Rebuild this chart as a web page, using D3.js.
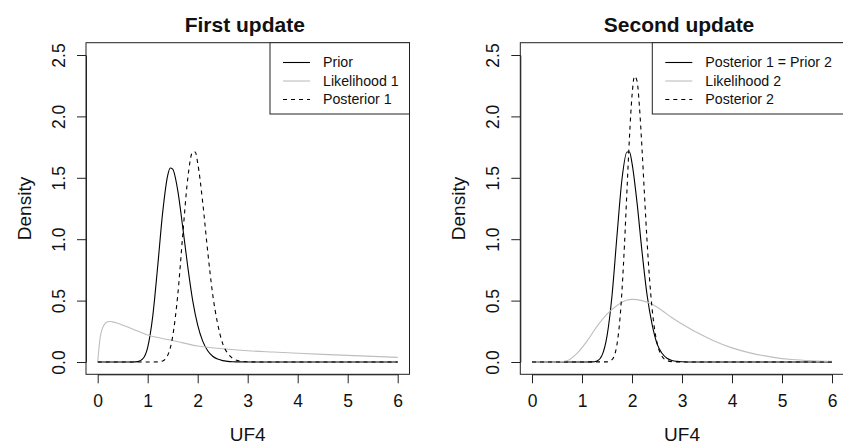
<!DOCTYPE html>
<html>
<head>
<meta charset="utf-8">
<script src="https://cdn.jsdelivr.net/npm/d3@7"></script>
<style>
  body { margin: 0; background: #fff; }
  svg text { font-family: "Liberation Sans", Arial, Helvetica, sans-serif; fill: #111; }
</style>
</head>
<body>
<div id="chart"></div>
<script>
// x ticks / y ticks
var xTicks = [0, 1, 2, 3, 4, 5, 6];
var yTicks = [0, 0.5, 1, 1.5, 2, 2.5];

// prior (first update)
var priorX = [0, 0.6, 0.7, 0.8, 0.9, 1.0, 1.1, 1.2, 1.3, 1.4, 1.45, 1.5, 1.6, 1.7, 1.8, 1.9, 2.0, 2.1, 2.2, 2.3, 2.4, 2.5, 2.6, 2.7, 2.8, 3.0, 6];
var priorY = [0, 0, 0.0003, 0.003, 0.025, 0.12, 0.37, 0.78, 1.22, 1.52, 1.58, 1.57, 1.40, 1.10, 0.78, 0.50, 0.30, 0.17, 0.092, 0.047, 0.024, 0.011, 0.005, 0.002, 0.001, 0, 0];

// likelihood 1
var lik1X = [0, 0.02, 0.05, 0.1, 0.15, 0.2, 0.25, 0.3, 0.4, 0.5, 0.6, 0.8, 1.0, 1.25, 1.5, 2.0, 2.5, 3.0, 3.5, 4.0, 4.5, 5.0, 5.5, 6.0];
var lik1Y = [0, 0.09, 0.2, 0.28, 0.315, 0.328, 0.33, 0.327, 0.315, 0.3, 0.285, 0.252, 0.22, 0.195, 0.175, 0.13, 0.108, 0.092, 0.081, 0.071, 0.062, 0.054, 0.046, 0.038];

// posterior 1 (= prior 2)
var post1X = [0, 1.1, 1.2, 1.3, 1.4, 1.5, 1.6, 1.7, 1.8, 1.9, 1.95, 2.0, 2.1, 2.2, 2.3, 2.4, 2.5, 2.6, 2.7, 2.8, 2.9, 3.0, 3.2, 6];
var post1Y = [0, 0, 0.001, 0.009, 0.054, 0.21, 0.54, 1.03, 1.49, 1.71, 1.71, 1.62, 1.30, 0.90, 0.55, 0.31, 0.15, 0.071, 0.030, 0.012, 0.005, 0.002, 0, 0];

// likelihood 2
var lik2X = [0, 0.5, 0.7, 0.9, 1.1, 1.3, 1.5, 1.7, 1.9, 2.0, 2.2, 2.4, 2.6, 2.8, 3.0, 3.3, 3.6, 4.0, 4.4, 4.8, 5.2, 5.6, 6.0];
var lik2Y = [0, 0, 0.01, 0.07, 0.17, 0.29, 0.39, 0.46, 0.505, 0.51, 0.50, 0.47, 0.42, 0.36, 0.31, 0.24, 0.18, 0.115, 0.07, 0.04, 0.02, 0.01, 0.005];

// posterior 2
var post2X = [0, 1.5, 1.6, 1.7, 1.75, 1.8, 1.85, 1.9, 1.95, 2.0, 2.05, 2.1, 2.15, 2.2, 2.25, 2.3, 2.35, 2.4, 2.45, 2.5, 2.6, 2.7, 2.8, 3.0, 6];
var post2Y = [0, 0.001, 0.019, 0.144, 0.311, 0.583, 0.96, 1.404, 1.835, 2.167, 2.327, 2.289, 2.072, 1.738, 1.359, 0.993, 0.682, 0.442, 0.272, 0.158, 0.047, 0.012, 0.003, 0, 0];

var titles = ["First update", "Second update"];
var legend1 = ["Prior", "Likelihood 1", "Posterior 1"];
var legend2 = ["Posterior 1 = Prior 2", "Likelihood 2", "Posterior 2"];

var svg_width = 843;
var svg_height = 444;

var svg = d3.select('#chart')
  .append('svg')
  .attr('width', svg_width)
  .attr('height', svg_height);

var styles = [
  {color: '#000', dash: null},
  {color: '#bebebe', dash: null},
  {color: '#000', dash: '4,4'}
];

function zip(xs, ys) {
  return xs.map(function(d, i) { return [d, ys[i]]; });
}

function drawPanel(offset, title, series, labels, legendLeft) {
  var g = svg.append('g').attr('transform', 'translate(' + offset + ',0)');

  var box = {left: 86, right: 409.5, top: 42.7, bottom: 374.3};

  var x = d3.scaleLinear().domain([0, 6]).range([97.7, 397.7]);
  var y = d3.scaleLinear().domain([0, 2.5]).range([362, 55]);

  var line = d3.line()
    .x(function(d) { return x(d[0]); })
    .y(function(d) { return y(d[1]); })
    .curve(d3.curveMonotoneX);

  // curves
  series.forEach(function(s, i) {
    g.append('path')
      .datum(s)
      .attr('d', line)
      .attr('fill', 'none')
      .attr('stroke', styles[i].color)
      .attr('stroke-width', 1.1)
      .attr('stroke-dasharray', styles[i].dash);
  });

  // plot box
  g.append('rect')
    .attr('x', box.left)
    .attr('y', box.top)
    .attr('width', box.right - box.left)
    .attr('height', box.bottom - box.top)
    .attr('fill', 'none')
    .attr('stroke', '#222')
    .attr('stroke-width', 1);

  // x axis
  var xAxis = g.append('g')
    .attr('transform', 'translate(0,' + box.bottom + ')')
    .call(d3.axisBottom(x).tickValues(xTicks).tickFormat(d3.format('d'))
      .tickSize(9).tickSizeOuter(0).tickPadding(11));
  xAxis.select('.domain').attr('stroke', '#222');
  xAxis.selectAll('line').attr('stroke', '#222');
  xAxis.selectAll('text').style('font-size', '17.5px').attr('fill', '#111');

  // y axis
  var yAxis = g.append('g')
    .attr('transform', 'translate(' + box.left + ',0)')
    .call(d3.axisLeft(y).tickValues(yTicks).tickFormat(d3.format('.1f'))
      .tickSize(9).tickSizeOuter(0));
  yAxis.select('.domain').attr('stroke', '#222');
  yAxis.selectAll('line').attr('stroke', '#222');
  yAxis.selectAll('text')
    .attr('x', null)
    .attr('dy', null)
    .attr('text-anchor', 'middle')
    .attr('transform', 'translate(-21,0) rotate(-90)')
    .style('font-size', '17.5px')
    .attr('fill', '#111');

  // labels
  var cx = (box.left + box.right) / 2;
  g.append('text')
    .attr('x', cx - 3)
    .attr('y', 31.5)
    .attr('text-anchor', 'middle')
    .style('font-size', '21px')
    .style('font-weight', 'bold')
    .text(title);

  g.append('text')
    .attr('x', cx)
    .attr('y', 441)
    .attr('text-anchor', 'middle')
    .style('font-size', '19px')
    .text('UF4');

  g.append('text')
    .attr('transform', 'translate(31,' + ((box.top + box.bottom) / 2) + ') rotate(-90)')
    .attr('text-anchor', 'middle')
    .style('font-size', '19px')
    .text('Density');

  // legend
  g.append('rect')
    .attr('x', legendLeft)
    .attr('y', box.top)
    .attr('width', box.right - legendLeft)
    .attr('height', 114 - box.top)
    .attr('fill', '#fff')
    .attr('stroke', '#222')
    .attr('stroke-width', 1);

  labels.forEach(function(lab, i) {
    var ly = 62.5 + i * 18.5;
    g.append('line')
      .attr('x1', legendLeft + 13)
      .attr('x2', legendLeft + 40)
      .attr('y1', ly)
      .attr('y2', ly)
      .attr('stroke', styles[i].color)
      .attr('stroke-width', 1.1)
      .attr('stroke-dasharray', styles[i].dash);
    g.append('text')
      .attr('x', legendLeft + 53)
      .attr('y', ly)
      .attr('dy', '0.35em')
      .style('font-size', '14.2px')
      .text(lab);
  });
}

drawPanel(0, titles[0],
  [zip(priorX, priorY), zip(lik1X, lik1Y), zip(post1X, post1Y)],
  legend1, 270);

drawPanel(434.3, titles[1],
  [zip(post1X, post1Y), zip(lik2X, lik2Y), zip(post2X, post2Y)],
  legend2, 218);
</script>
</body>
</html>
